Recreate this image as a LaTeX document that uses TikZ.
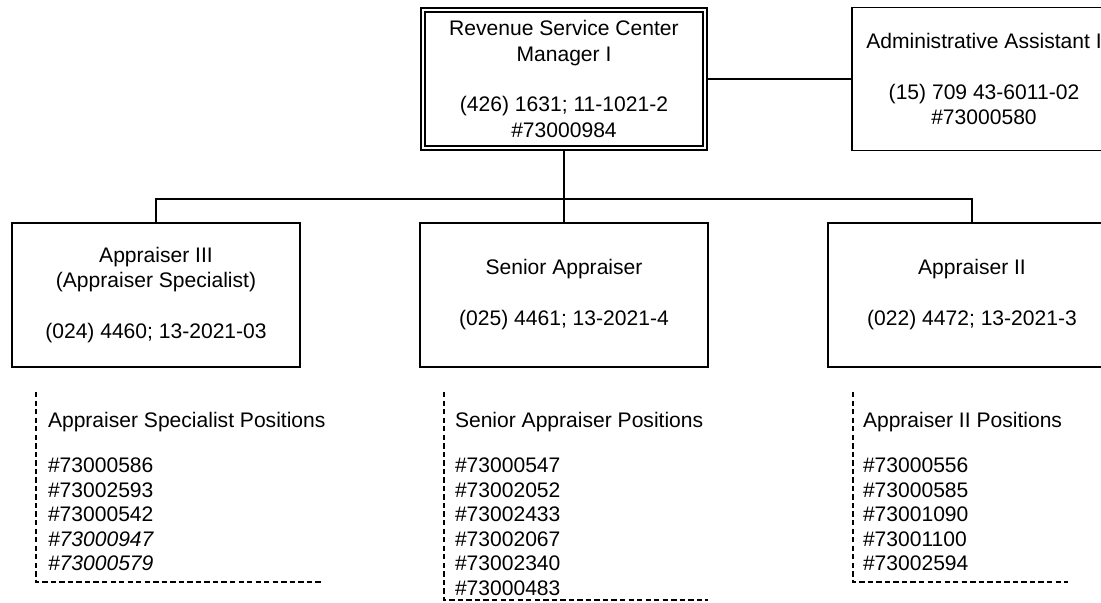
\documentclass[tikz,border=0pt]{standalone}
\usepackage{fontspec}
\setmainfont{Liberation Sans}
\begin{document}
\begin{tikzpicture}[x=0.75pt,y=-0.75pt,
  every node/.style={inner sep=0pt,outer sep=0pt},
  boxtext/.style={font=\fontsize{15.8pt}{19.1pt}\selectfont},
  listtext/.style={font=\fontsize{15.8pt}{18.4pt}\selectfont},
  posbox/.style={draw,line width=1.4pt,boxtext,align=center,
    minimum width=288*0.75pt,minimum height=144*0.75pt},
  link/.style={line width=1.4pt},
  listrule/.style={line width=1.1pt,dash pattern=on 4pt off 2.4pt},
  poslist/.style={listtext,align=left,anchor=north west}
]
\useasboundingbox (0,0) rectangle (1101,603);
\clip (0,0) rectangle (1101,603);
\fill[white] (0,0) rectangle (1101,603);

% top level
\node[posbox,double,line width=1.2pt,double distance=2.1pt,
  minimum width=282*0.75pt,minimum height=138*0.75pt,outer sep=2.25pt]
  (mgr) at (564,79)
  {Revenue Service Center\\Manager I\\[19.1pt](426) 1631; 11-1021-2\\\#73000984};
\node[posbox,minimum width=264*0.75pt,minimum height=143*0.75pt]
  (asst) at (984,79)
  {Administrative Assistant I\\[19.1pt](15) 709 43-6011-02\\\#73000580};

% appraiser positions
\node[posbox] (spec) at (156,295)
  {Appraiser III\\(Appraiser Specialist)\\[19.1pt](024) 4460; 13-2021-03};
\node[posbox] (senior) at (564,295)
  {Senior Appraiser\\[19.1pt](025) 4461; 13-2021-4};
\node[posbox] (appr) at (972,295)
  {Appraiser II\\[19.1pt](022) 4472; 13-2021-3};

% reporting lines
\coordinate (bus) at (564,199);
\draw[link] (mgr) -- (asst);
\draw[link] (mgr.south) -- (bus);
\draw[link] (spec.north) |- (bus) -| (appr.north);
\draw[link] (bus) -- (senior.north);

% position number lists
\coordinate (specTop) at (36,392);
\coordinate (specEnd) at (322,582);
\draw[listrule] (specTop) |- (specEnd);
\node[poslist] (specList) at (48,412.5)
  {Appraiser Specialist Positions\\[15.4pt]\#73000586\\\#73002593\\\#73000542\\
   \textit{\#73000947}\\\textit{\#73000579}};

\coordinate (seniorTop) at (444,392);
\coordinate (seniorEnd) at (708,600);
\draw[listrule] (seniorTop) |- (seniorEnd);
\node[poslist] (seniorList) at (455,412.5)
  {Senior Appraiser Positions\\[15.4pt]\#73000547\\\#73002052\\\#73002433\\
   \#73002067\\\#73002340\\\#73000483};

\coordinate (apprTop) at (853,392);
\coordinate (apprEnd) at (1068,582);
\draw[listrule] (apprTop) |- (apprEnd);
\node[poslist] (apprList) at (863,412.5)
  {Appraiser II Positions\\[15.4pt]\#73000556\\\#73000585\\\#73001090\\
   \#73001100\\\#73002594};
\end{tikzpicture}
\end{document}
